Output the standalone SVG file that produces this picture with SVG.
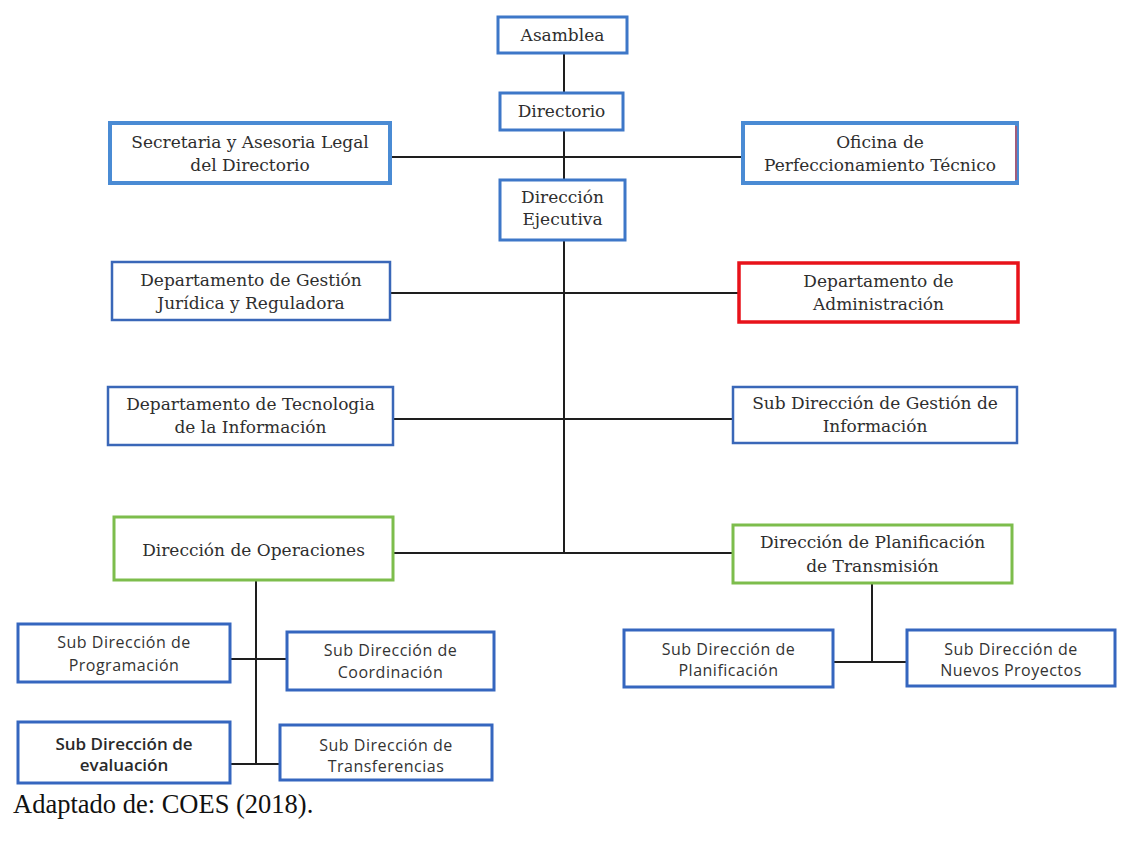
<svg xmlns="http://www.w3.org/2000/svg" width="1124" height="845" viewBox="0 0 1124 845">
  <style>
    .box { fill: #ffffff; }
    .thick { stroke: #4a8bd4; stroke-width: 4; }
    .mid { stroke: #3d77c8; stroke-width: 3; }
    .thin { stroke: #3a67b8; stroke-width: 2.5; }
    .red { stroke: #e8121a; stroke-width: 3.5; }
    .green { stroke: #7dbd4c; stroke-width: 3; }
    .small { stroke: #3566bf; stroke-width: 3; }
    .serif { font-family: "DejaVu Serif", "Liberation Serif", serif; font-size: 17px; fill: #2e2e2e; text-anchor: middle; }
    .sans { font-family: "Open Sans", "Liberation Sans", sans-serif; font-size: 16px; fill: #333333; text-anchor: middle; letter-spacing: 0.5px; }
    .sansb { font-family: "Open Sans", "Liberation Sans", sans-serif; font-size: 17px; font-weight: 600; fill: #2a2a2a; text-anchor: middle; }
    .conn { stroke: #1e1e1e; stroke-width: 2; fill: none; }
    .caption { font-family: "Liberation Serif", "Times New Roman", serif; font-size: 26.5px; fill: #111111; }
  </style>

  <rect width="1124" height="845" fill="#ffffff"/>

  <!-- connectors -->
  <g id="connectors">
    <line class="conn" x1="564" y1="53" x2="564" y2="553"/>
    <line class="conn" x1="390" y1="157" x2="743" y2="157"/>
    <line class="conn" x1="390" y1="293" x2="739" y2="293"/>
    <line class="conn" x1="393" y1="419" x2="733" y2="419"/>
    <line class="conn" x1="393" y1="553" x2="733" y2="553"/>
    <line class="conn" x1="256" y1="580" x2="256" y2="765"/>
    <line class="conn" x1="230" y1="659" x2="287" y2="659"/>
    <line class="conn" x1="230" y1="764" x2="280" y2="764"/>
    <line class="conn" x1="872" y1="583" x2="872" y2="662"/>
    <line class="conn" x1="833" y1="662" x2="907" y2="662"/>
  </g>

  <g id="asamblea">
    <rect class="box mid" x="498" y="17" width="129" height="36"/>
    <text class="serif" x="562.5" y="41">Asamblea</text>
  </g>

  <g id="directorio">
    <rect class="box mid" x="500" y="93" width="123" height="37"/>
    <text class="serif" x="561.5" y="117">Directorio</text>
  </g>

  <g id="secretaria">
    <rect class="box thick" x="110" y="123" width="280" height="60"/>
    <text class="serif" x="250" y="148">Secretaria y Asesoria Legal</text>
    <text class="serif" x="250" y="171">del Directorio</text>
  </g>

  <g id="oficina">
    <rect class="box thick" x="743" y="123" width="274" height="60"/>
    <line x1="1016" y1="126" x2="1016" y2="180" stroke="#e04040" stroke-width="1.2"/>
    <text class="serif" x="880" y="148">Oficina de</text>
    <text class="serif" x="880" y="171">Perfeccionamiento Técnico</text>
  </g>

  <g id="direccion-ejecutiva">
    <rect class="box mid" x="500" y="180" width="125" height="60"/>
    <text class="serif" x="562.5" y="203">Dirección</text>
    <text class="serif" x="562.5" y="225">Ejecutiva</text>
  </g>

  <g id="gestion-juridica">
    <rect class="box thin" x="112" y="262" width="278" height="58"/>
    <text class="serif" x="251" y="286">Departamento de Gestión</text>
    <text class="serif" x="251" y="309">Jurídica y Reguladora</text>
  </g>

  <g id="administracion">
    <rect class="box red" x="739" y="263" width="279" height="59"/>
    <text class="serif" x="878.5" y="287">Departamento de</text>
    <text class="serif" x="878.5" y="310">Administración</text>
  </g>

  <g id="tecnologia">
    <rect class="box thin" x="108" y="387" width="285" height="58"/>
    <text class="serif" x="250.5" y="410">Departamento de Tecnologia</text>
    <text class="serif" x="250.5" y="433">de la Información</text>
  </g>

  <g id="gestion-informacion">
    <rect class="box thin" x="733" y="387" width="284" height="56"/>
    <text class="serif" x="875" y="409">Sub Dirección de Gestión de</text>
    <text class="serif" x="875" y="432">Información</text>
  </g>

  <g id="operaciones">
    <rect class="box green" x="114" y="517" width="279" height="63"/>
    <text class="serif" x="253.5" y="556">Dirección de Operaciones</text>
  </g>

  <g id="planificacion-transmision">
    <rect class="box green" x="733" y="525" width="279" height="58"/>
    <text class="serif" x="872.5" y="548">Dirección de Planificación</text>
    <text class="serif" x="872.5" y="572">de Transmisión</text>
  </g>

  <g id="programacion">
    <rect class="box small" x="18" y="624" width="212" height="58"/>
    <text class="sans" x="124" y="648">Sub Dirección de</text>
    <text class="sans" x="124" y="671">Programación</text>
  </g>

  <g id="coordinacion">
    <rect class="box small" x="287" y="632" width="207" height="58"/>
    <text class="sans" x="390.5" y="656">Sub Dirección de</text>
    <text class="sans" x="390.5" y="678">Coordinación</text>
  </g>

  <g id="evaluacion">
    <rect class="box small" x="18" y="722" width="212" height="61"/>
    <text class="sansb" x="124" y="750">Sub Dirección de</text>
    <text class="sansb" x="124" y="771">evaluación</text>
  </g>

  <g id="transferencias">
    <rect class="box small" x="280" y="725" width="212" height="55"/>
    <text class="sans" x="386" y="751">Sub Dirección de</text>
    <text class="sans" x="386" y="772">Transferencias</text>
  </g>

  <g id="sub-planificacion">
    <rect class="box small" x="624" y="630" width="209" height="57"/>
    <text class="sans" x="728.5" y="655">Sub Dirección de</text>
    <text class="sans" x="728.5" y="676">Planificación</text>
  </g>

  <g id="nuevos-proyectos">
    <rect class="box small" x="907" y="630" width="208" height="56"/>
    <text class="sans" x="1011" y="655">Sub Dirección de</text>
    <text class="sans" x="1011" y="676">Nuevos Proyectos</text>
  </g>

  <text class="caption" x="13" y="813">Adaptado de: COES (2018).</text>
</svg>
